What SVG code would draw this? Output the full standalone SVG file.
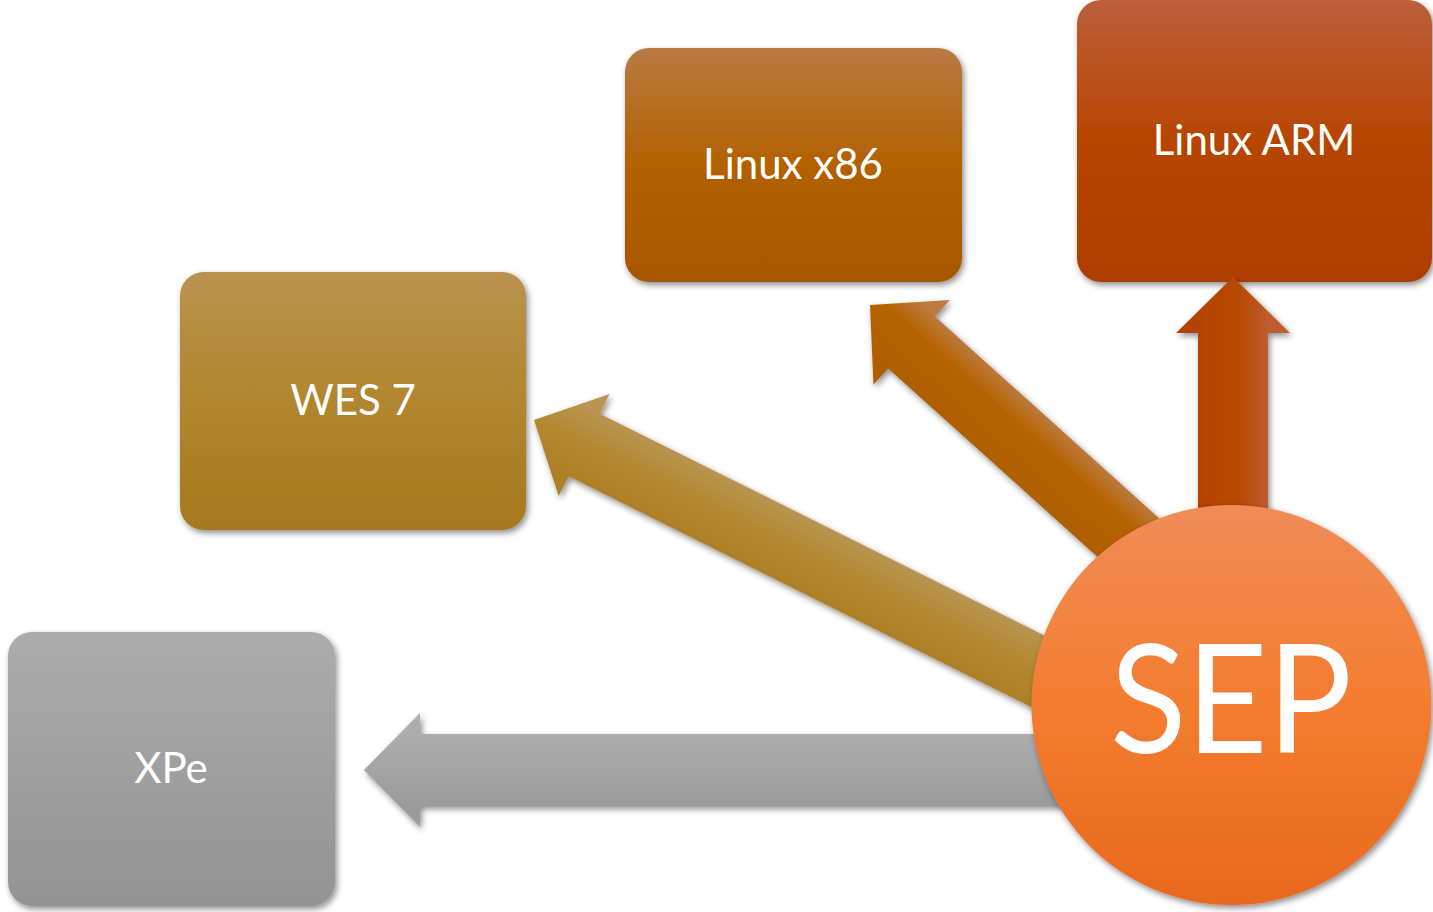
<svg xmlns="http://www.w3.org/2000/svg" width="1433" height="912" viewBox="0 0 1433 912">
<style>
.lbl{font-family:Lato,"Open Sans","Liberation Sans",sans-serif;fill:#ffffff;text-anchor:middle;font-size:42px}
.sep{font-family:Lato,"Open Sans","Liberation Sans",sans-serif;fill:#ffffff;text-anchor:middle;font-size:152px}
</style>
<defs>
<filter id="sh" x="-20%" y="-20%" width="140%" height="140%">
<feDropShadow dx="2" dy="3" stdDeviation="3" flood-color="#000" flood-opacity="0.45"/>
</filter>
<linearGradient id="gXpe" x1="0" y1="0" x2="0" y2="1"><stop offset="0" stop-color="#acacac"/><stop offset="1" stop-color="#939393"/></linearGradient>
<linearGradient id="gWes" x1="0" y1="0" x2="0" y2="1"><stop offset="0" stop-color="#b9934f"/><stop offset="0.5" stop-color="#b2862e"/><stop offset="1" stop-color="#a6781f"/></linearGradient>
<linearGradient id="gX86" x1="0" y1="0" x2="0" y2="1"><stop offset="0" stop-color="#b97a43"/><stop offset="0.5" stop-color="#b26200"/><stop offset="1" stop-color="#a95600"/></linearGradient>
<linearGradient id="gArm" x1="0" y1="0" x2="0" y2="1"><stop offset="0" stop-color="#bd5e3c"/><stop offset="0.5" stop-color="#b64500"/><stop offset="1" stop-color="#b03e00"/></linearGradient>
<linearGradient id="gSep" x1="0" y1="0" x2="0" y2="1"><stop offset="0" stop-color="#f08c57"/><stop offset="0.5" stop-color="#f47d30"/><stop offset="1" stop-color="#e8691c"/></linearGradient>
<linearGradient id="aGray" gradientUnits="userSpaceOnUse" x1="0" y1="-36" x2="0" y2="36"><stop offset="0" stop-color="#adadad"/><stop offset="1" stop-color="#9b9b9b"/></linearGradient>
<linearGradient id="aWes" gradientUnits="userSpaceOnUse" x1="0" y1="-36" x2="0" y2="36"><stop offset="0" stop-color="#ba9452"/><stop offset="0.5" stop-color="#b3882f"/><stop offset="1" stop-color="#ae8026"/></linearGradient>
<linearGradient id="aX86" gradientUnits="userSpaceOnUse" x1="0" y1="-36" x2="0" y2="36"><stop offset="0" stop-color="#bc7a40"/><stop offset="0.35" stop-color="#b46400"/><stop offset="1" stop-color="#b05f00"/></linearGradient>
<linearGradient id="aArm" gradientUnits="userSpaceOnUse" x1="0" y1="-36" x2="0" y2="36"><stop offset="0" stop-color="#c05c30"/><stop offset="0.4" stop-color="#b84a04"/><stop offset="1" stop-color="#b44200"/></linearGradient>
<polygon id="arrow" points="0,0 56,-57 56,-35 700,-35 700,35 56,35 56,57"/>
</defs>

<g id="node-xpe">
<rect x="8" y="632" width="327" height="274" rx="24" fill="url(#gXpe)" filter="url(#sh)"/>
<text class="lbl" x="171" y="783">XPe</text>
</g>
<g id="node-wes7">
<rect x="180" y="272" width="346" height="258" rx="24" fill="url(#gWes)" filter="url(#sh)"/>
<text class="lbl" x="353" y="415">WES 7</text>
</g>
<g id="node-linux-x86">
<rect x="625" y="48" width="337" height="234" rx="24" fill="url(#gX86)" filter="url(#sh)"/>
<text class="lbl" x="793" y="179">Linux x86</text>
</g>
<g id="node-linux-arm">
<rect x="1077" y="0" width="355" height="282" rx="24" fill="url(#gArm)" filter="url(#sh)"/>
<text class="lbl" x="1254" y="155">Linux ARM</text>
</g>

<g id="connectors" filter="url(#sh)">
<polygon points="0,0 56,-57 56,-36 720,-36 720,36 56,36 56,57" fill="url(#aGray)" transform="translate(364,770)"/>
<polygon points="0,0 56,-57 56,-35 600,-35 600,35 56,35 56,57" fill="url(#aWes)" transform="translate(534,420) rotate(26.5)"/>
<polygon points="0,0 56,-57 56,-35 470,-35 470,35 56,35 56,57" fill="url(#aX86)" transform="translate(870,305) rotate(42)"/>
<polygon points="0,0 56,-57 56,-35 300,-35 300,35 56,35 56,57" fill="url(#aArm)" transform="translate(1233,277) rotate(90)"/>
</g>

<g id="node-sep">
<circle cx="1231.5" cy="705" r="200" fill="url(#gSep)" filter="url(#sh)"/>
<text class="sep" x="1231" y="753" textLength="242" lengthAdjust="spacingAndGlyphs">SEP</text>
</g>
</svg>
